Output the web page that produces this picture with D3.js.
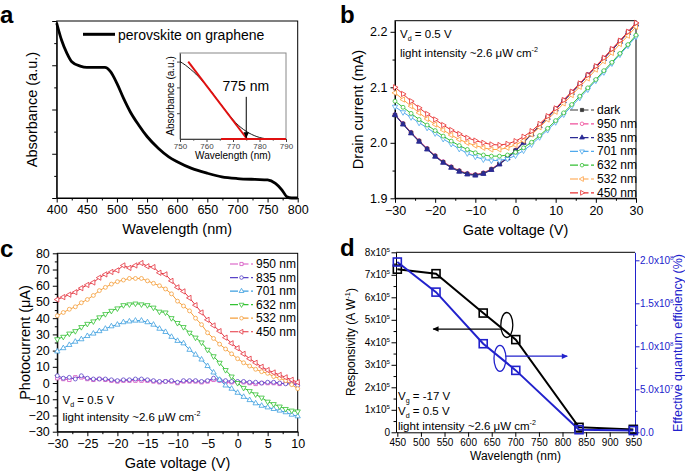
<!DOCTYPE html>
<html><head><meta charset="utf-8">
<script src="https://cdn.jsdelivr.net/npm/d3@7"></script>
<style>body{margin:0;background:#fff}svg{display:block}text{font-family:Arial,"Liberation Sans",sans-serif}</style>
</head><body>
<svg id="chart" width="685" height="471"></svg>
<script>
// ---------------- DATA ----------------
// panel a: absorbance spectrum
const absWl  = [400,408,417,425,439,450,467,480,489,500,511,522,536,550,569,586,600,624,650,674,700,729,750,763,774,782,790,800];
const absVal = [3.95,3.57,3.27,3.08,2.98,2.95,2.95,2.95,2.86,2.59,2.25,1.95,1.65,1.39,1.12,0.93,0.82,0.67,0.56,0.48,0.44,0.42,0.41,0.33,0.18,0.03,0,0];
// inset
const insWl  = [750,752,754,756,758,760,762,764,766,768,770,772,774,776,778,780,782,784,790];
const insAbs = [0.90,0.86,0.81,0.755,0.69,0.62,0.545,0.46,0.38,0.30,0.225,0.16,0.11,0.07,0.04,0.018,0.005,0,0];
const insFitWl = [753.1,775.3];
const insFitAbs = [0.9,0];
const insBaseWl = [765.5,790];
const insBaseAbs = [0,0];
const edgeWl = 775;
const aXTicks = [400,450,500,550,600,650,700,750,800];
const insXTicks = [750,760,770,780,790];

// panel b: drain current (mA) vs gate voltage
const bV = [-30,-28,-26,-24,-22,-20,-18,-16,-14,-12,-10,-8,-6,-4,-2,0,2,4,6,8,10,12,14,16,18,20,22,24,26,28,30];
const bDark = [2.050,2.034,2.018,2.003,1.989,1.976,1.965,1.956,1.949,1.944,1.942,1.945,1.952,1.962,1.973,1.986,2.001,2.016,2.031,2.046,2.061,2.076,2.091,2.106,2.122,2.137,2.152,2.168,2.183,2.199,2.214];
const b950  = [2.051,2.035,2.019,2.004,1.990,1.977,1.966,1.957,1.950,1.945,1.943,1.946,1.953,1.963,1.974,1.987,2.002,2.017,2.032,2.047,2.062,2.077,2.092,2.107,2.123,2.138,2.153,2.169,2.184,2.200,2.215];
const b835  = [2.050,2.033,2.017,2.002,1.988,1.975,1.964,1.955,1.948,1.943,1.941,1.944,1.951,1.961,1.972,1.985,2.000,2.015,2.030,2.045,2.060,2.075,2.090,2.105,2.121,2.136,2.151,2.167,2.182,2.198,2.213];
const b701  = [2.065,2.055,2.046,2.036,2.027,2.017,2.007,1.998,1.989,1.981,1.975,1.970,1.968,1.968,1.971,1.977,1.986,1.997,2.010,2.023,2.037,2.051,2.066,2.081,2.096,2.112,2.127,2.143,2.159,2.175,2.191];
const b632  = [2.075,2.064,2.053,2.042,2.032,2.022,2.012,2.003,1.995,1.988,1.982,1.978,1.976,1.976,1.978,1.983,1.991,2.001,2.013,2.026,2.040,2.054,2.069,2.084,2.099,2.114,2.130,2.145,2.161,2.177,2.194];
const b532  = [2.090,2.078,2.066,2.054,2.043,2.033,2.023,2.014,2.006,2.000,1.995,1.991,1.988,1.988,1.991,1.996,2.004,2.015,2.028,2.042,2.056,2.071,2.086,2.101,2.116,2.132,2.147,2.162,2.178,2.193,2.209];
const b450  = [2.100,2.088,2.075,2.063,2.052,2.042,2.032,2.023,2.016,2.009,2.004,2.000,1.997,1.996,1.998,2.003,2.011,2.021,2.034,2.048,2.062,2.077,2.092,2.107,2.122,2.138,2.153,2.169,2.184,2.200,2.216];
const bNames = ["dark","950 nm","835 nm","701 nm","632 nm","532 nm","450 nm"];
const bXTicks = [-30,-20,-10,0,10,20,30];
const bYTicks = [1.9,2.0,2.1,2.2];

// panel c: photocurrent (uA) vs gate voltage
const cV = [-30,-29,-28,-27,-26,-25,-24,-23,-22,-21,-20,-19,-18,-17,-16,-15,-14,-13,-12,-11,-10,-9,-8,-7,-6,-5,-4,-3,-2,-1,0,1,2,3,4,5,6,7,8,9,10];
const c950 = [3,2.5,2,3.5,3.5,2.5,2,2.5,2,1.5,1,1.5,1.5,1.5,1.5,1.5,1,0.5,1,1,0,1,1,1,0.5,1,2,1.5,0.5,0.5,0.5,0.5,0,-0.5,0,0,0,-0.5,0,0,-0.5];
const c835 = [4.5,3,3.5,2.5,4.5,3,2.5,2.5,2.5,2,1.5,2,2,2.5,2.5,2,1.5,1,1,1.5,0.5,1.5,1.5,1.5,1,1.5,3,2,1.5,1,1,1,0.5,0.5,0,0.5,0.5,0,-0.5,-0.5,-1.5];
const c701 = [19.5,21.5,23.5,25.5,27,29,30.5,32,33.5,35,36,37.5,38,38.5,38.5,37.5,36,33.5,31.5,28.5,26,24.5,20.5,17.5,14.5,10.5,6.5,2,-1.5,-3.5,-6,-8.5,-10.5,-12.5,-14,-15,-16,-17,-18,-19.5,-20.5];
const c632 = [27,28.5,30.5,32,34.5,36.5,38,40.5,42.5,44.5,46,48,48.5,49,48.5,48,46.5,44,43.5,40,37,34.5,31,28,25,20.5,16.5,12.5,8,4,0,-3,-5,-7,-9,-11.5,-13,-14.5,-16,-17,-17.5];
const c532 = [41.5,43.5,45.5,47,49.5,51.5,54,57,59,61,62.5,63.5,64.5,64.5,64.5,63,61.5,60,58,55,50.5,47.5,44.5,40,36,31,27.5,24,21,18,15,12.5,10.5,8.5,7,6,4,3,1.5,-1,-3.5];
const c450 = [51.5,53,54.5,56,58.5,60.5,62,65,67,68.5,69.5,72.5,71,72.5,74,72,71.5,68,67,63,59,56.5,52.5,48,43.5,39,35.5,32,28,24.5,21.5,18,15,12.5,10,8,6.5,5,3.5,2,0.5];
const cNames = ["950 nm","835 nm","701 nm","632 nm","532 nm","450 nm"];
const cXTicks = [-30,-25,-20,-15,-10,-5,0,5,10];
const cYTicks = [-30,-20,-10,0,10,20,30,40,50,60,70,80];

// panel d: responsivity & EQE vs wavelength
const dWl = [450,532,632,701,835,950];
const dResp = [7.25e5,7.05e5,5.3e5,4.12e5,0.22e5,0.13e5];
const dEQE  = [1.98e8,1.63e8,1.03e8,0.72e8,0.03e8,0.02e8];
const dXTicks = [450,500,550,600,650,700,750,800,850,900,950];
const dYLTicks = [0,1,2,3,4,5,6,7,8];
const dYRTicks = [[0,"0.0",""],[0.5e8,"5.0x10","7"],[1e8,"1.0x10","8"],[1.5e8,"1.5x10","8"],[2e8,"2.0x10","8"]];

// ---------------- HELPERS ----------------
const svg = d3.select('#chart');
svg.append('rect').attr('width',685).attr('height',471).attr('fill','#fff');
const defs = svg.append('defs');
function arrowDef(id,color){
  defs.append('marker').attr('id',id).attr('viewBox','0 0 10 10').attr('refX',9).attr('refY',5)
    .attr('markerWidth',7).attr('markerHeight',6).attr('orient','auto').attr('markerUnits','userSpaceOnUse')
    .append('path').attr('d','M0,0.5 L10,5 L0,9.5 Z').attr('fill',color);
}
arrowDef('arrK','#000'); arrowDef('arrB','#2222cc');

function txt(g,x,y,parts,o={}){
  const fs=o.size||12;
  const t=g.append('text').attr('x',x).attr('y',y).attr('font-size',fs)
    .attr('fill',o.fill||'#000').attr('text-anchor',o.anchor||'start');
  if(o.rotate) t.attr('transform',`rotate(${o.rotate},${x},${y})`);
  if(o.weight) t.attr('font-weight',o.weight);
  let shift=0;
  (typeof parts==='string'?[[parts,'n']]:parts).forEach(([s,k])=>{
    const target = k==='sup' ? -0.42*fs : k==='sub' ? 0.28*fs : 0;
    const ts=t.append('tspan').text(s).attr('dy',target-shift);
    if(k!=='n') ts.attr('font-size',fs*0.62);
    shift=target;
  });
  return t;
}
function axis(g,scale,orient,pos,majors,minors,fmt,fs,color,tl,pad){
  color=color||'#000'; tl=tl||4.5; pad=(pad===undefined)?3:pad;
  const mk={bottom:d3.axisBottom,left:d3.axisLeft,right:d3.axisRight,top:d3.axisTop}[orient];
  const tr=(orient==='bottom'||orient==='top')?`translate(0,${pos})`:`translate(${pos},0)`;
  const a=g.append('g').attr('transform',tr)
    .call(mk(scale).tickValues(majors).tickSize(tl).tickSizeOuter(0).tickPadding(pad).tickFormat(fmt||(()=>'')));
  a.selectAll('text').attr('font-size',fs||12).attr('fill',color).attr('font-family','Arial, "Liberation Sans", sans-serif');
  a.selectAll('line,path').attr('stroke',color).attr('stroke-width',1);
  if(minors){
    const m=g.append('g').attr('transform',tr).call(mk(scale).tickValues(minors).tickSize(tl*0.55).tickSizeOuter(0).tickFormat(''));
    m.select('.domain').remove(); m.selectAll('line').attr('stroke',color);
  }
  return a;
}
function frame(g,x,y){
  g.append('rect').attr('x',x.range()[0]).attr('y',y.range()[1]).attr('width',x.range()[1]-x.range()[0])
   .attr('height',y.range()[0]-y.range()[1]).attr('fill','none').attr('stroke','#000').attr('stroke-width',1);
}
const rot={up:0,down:180,left:-90,right:90};
function symPath(shape,size){
  const t={sq:d3.symbolSquare,ci:d3.symbolCircle,tri:d3.symbolTriangle,dia:d3.symbolDiamond}[shape];
  return d3.symbol().type(t).size(size)();
}
function marker(g,x,y,st,size){
  return g.append('path').attr('d',symPath(st.shape,size))
    .attr('transform',`translate(${x},${y}) rotate(${rot[st.dir||'up']})`)
    .attr('fill',st.filled?st.color:'#fff').attr('stroke',st.color).attr('stroke-width',0.8);
}
const minorsOf=(a,b,step)=>d3.range(a,b+1e-9,step);

// ---------------- PANEL A ----------------
const gA=svg.append('g');
const xA=d3.scaleLinear([400,800],[56.7,297.7]);
const yA=d3.scaleLinear([0,4],[198,21]);
axis(gA,xA,'bottom',198,aXTicks,minorsOf(425,775,50),d3.format('d'),12.5);
axis(gA,yA,'left',56.7,[0,1,2,3,4],[0.5,1.5,2.5,3.5],null,12);
frame(gA,xA,yA);
gA.append('path').datum(absWl.map((w,i)=>[w,absVal[i]]))
  .attr('d',d3.line().x(d=>xA(d[0])).y(d=>yA(d[1])).curve(d3.curveMonotoneX))
  .attr('fill','none').attr('stroke','#000').attr('stroke-width',2.8);
// legend
gA.append('line').attr('x1',83).attr('x2',115).attr('y1',34.3).attr('y2',34.3).attr('stroke','#000').attr('stroke-width',3);
txt(gA,118,39.5,'perovskite on graphene',{size:14});
txt(gA,(xA.range()[0]+xA.range()[1])/2,234,'Wavelength (nm)',{size:14.5,anchor:'middle'});
txt(gA,36.5,109.5,'Absorbance (a.u.)',{size:14.5,anchor:'middle',rotate:-90});
txt(gA,0,22.5,'a',{size:24,weight:'bold'});
// inset
const xI=d3.scaleLinear([750,790],[180,286]);
const yI=d3.scaleLinear([0,1],[139,53]);
gA.append('rect').attr('x',180).attr('y',53).attr('width',106).attr('height',86).attr('fill','#fff').attr('stroke','#888');
const ia=axis(gA,xI,'bottom',139,insXTicks,minorsOf(755,785,10),d3.format('d'),8,'#444',3);
ia.selectAll('text').attr('y',4).attr('dy','0.72em');
axis(gA,yI,'left',180,[0.3,0.6,0.9],null,null,8,'#444',3);
gA.append('path').datum(insWl.map((w,i)=>[w,insAbs[i]]))
  .attr('d',d3.line().x(d=>xI(d[0])).y(d=>yI(d[1])).curve(d3.curveMonotoneX))
  .attr('fill','none').attr('stroke','#000').attr('stroke-width',0.9);
gA.append('path').datum(insFitWl.map((w,i)=>[w,insFitAbs[i]]))
  .attr('d',d3.line().x(d=>xI(d[0])).y(d=>yI(d[1]))).attr('fill','none').attr('stroke','#e01010').attr('stroke-width',2);
gA.append('path').datum(insBaseWl.map((w,i)=>[w,insBaseAbs[i]]))
  .attr('d',d3.line().x(d=>xI(d[0])).y(d=>yI(d[1]))).attr('fill','none').attr('stroke','#e01010').attr('stroke-width',2);
gA.append('line').attr('x1',xI(edgeWl)).attr('x2',xI(edgeWl)).attr('y1',yI(0.49)).attr('y2',yI(0.015))
  .attr('stroke','#000').attr('stroke-width',1).attr('marker-end','url(#arrK)');
txt(gA,xI(edgeWl)-0.5,91,'775 nm',{size:14,anchor:'middle'});
txt(gA,233,158.5,'Wavelength (nm)',{size:10,anchor:'middle'});
txt(gA,174,96,'Absorbance (a.u.)',{size:10,anchor:'middle',rotate:-90});

// ---------------- PANEL B ----------------
const gB=svg.append('g');
const xB=d3.scaleLinear([-30,30],[395,636]);
const yB=d3.scaleLinear([1.9,2.22],[198.3,20.7]);
axis(gB,xB,'bottom',198.3,bXTicks,minorsOf(-25,25,10),d3.format('d'),12.5);
axis(gB,yB,'left',395,bYTicks,[1.95,2.05,2.15],d3.format('.1f'),12.5);
frame(gB,xB,yB);
const bStyles=[
  {color:'#3a3a3a',shape:'sq',filled:true},
  {color:'#f0509c',shape:'ci'},
  {color:'#2b2b95',shape:'tri',dir:'up',filled:true},
  {color:'#4fa9ec',shape:'tri',dir:'down'},
  {color:'#35bf35',shape:'ci'},
  {color:'#ffa040',shape:'tri',dir:'left'},
  {color:'#e83232',shape:'tri',dir:'right'}];
const bSeries=[bDark,b950,b835,b701,b632,b532,b450];
const bOrder=[1,0,2,3,4,5,6];
bOrder.forEach(si=>{
  const vals=bSeries[si], st=bStyles[si];
  gB.append('path').datum(bV.map((v,i)=>[v,vals[i]]))
    .attr('d',d3.line().x(d=>xB(d[0])).y(d=>yB(d[1])))
    .attr('fill','none').attr('stroke',st.color).attr('stroke-width',1);
  bV.forEach((v,i)=>marker(gB,xB(v),yB(vals[i]),st,12));
});
bNames.forEach((n,i)=>{
  const y=110+i*13.8, st=bStyles[i];
  gB.append('line').attr('x1',570).attr('x2',594).attr('y1',y).attr('y2',y).attr('stroke',st.color).attr('stroke-width',1.2).attr('stroke-dasharray','8,2.5');
  marker(gB,582,y,st,10);
  txt(gB,597,y+4,n,{size:12});
});
txt(gB,400,37.5,[['V','n'],['d','sub'],[' = 0.5 V','n']],{size:11.5});
txt(gB,400,56.5,[['light intensity ~2.6 μW cm','n'],['-2','sup']],{size:11.5});
txt(gB,(xB.range()[0]+xB.range()[1])/2,235,'Gate voltage (V)',{size:14.5,anchor:'middle'});
txt(gB,363,109.5,'Drain current (mA)',{size:14.5,anchor:'middle',rotate:-90});
txt(gB,340,22.5,'b',{size:24,weight:'bold'});

// ---------------- PANEL C ----------------
const gC=svg.append('g');
const xC=d3.scaleLinear([-30,10],[57.3,297.7]);
const yC=d3.scaleLinear([-30,80],[431.7,253.3]);
axis(gC,xC,'bottom',431.7,cXTicks,minorsOf(-27.5,7.5,5),d3.format('d'),12.5);
axis(gC,yC,'left',57.3,cYTicks,minorsOf(-25,75,10),d3.format('d'),12.5);
frame(gC,xC,yC);
const cStyles=[
  {color:'#d64fc0',shape:'sq'},
  {color:'#5a44c8',shape:'ci'},
  {color:'#3d9fe0',shape:'tri',dir:'up'},
  {color:'#33c233',shape:'tri',dir:'down'},
  {color:'#f5a03c',shape:'ci'},
  {color:'#e5323e',shape:'tri',dir:'left'}];
const cSeries=[c950,c835,c701,c632,c532,c450];
cSeries.forEach((vals,si)=>{
  const st=cStyles[si];
  gC.append('path').datum(cV.map((v,i)=>[v,vals[i]]))
    .attr('d',d3.line().x(d=>xC(d[0])).y(d=>yC(d[1])))
    .attr('fill','none').attr('stroke',st.color).attr('stroke-width',1);
  cV.forEach((v,i)=>marker(gC,xC(v),yC(vals[i]),st,12));
});
cNames.forEach((n,i)=>{
  const y=264+i*13.55, st=cStyles[i];
  gC.append('line').attr('x1',230).attr('x2',253).attr('y1',y).attr('y2',y).attr('stroke',st.color).attr('stroke-width',1.2).attr('stroke-dasharray','8,2.5');
  marker(gC,241.5,y,st,10);
  txt(gC,256,y+4,n,{size:12});
});
txt(gC,62.5,403.5,[['V','n'],['d','sub'],[' = 0.5 V','n']],{size:11.5});
txt(gC,62.5,421,[['light intensity ~2.6 μW cm','n'],['-2','sup']],{size:11.5});
txt(gC,(xC.range()[0]+xC.range()[1])/2,468,'Gate voltage (V)',{size:14.5,anchor:'middle'});
txt(gC,30,342.5,'Photocurrent (μA)',{size:14.5,anchor:'middle',rotate:-90});
txt(gC,0,256.5,'c',{size:24,weight:'bold'});

// ---------------- PANEL D ----------------
const gD=svg.append('g');
const xD=d3.scaleLinear([447.2,953.6],[396,635]);
const yDL=d3.scaleLinear([0,8e5],[432.3,252.3]);
const yDR=d3.scaleLinear([0,2e8*180/172],[432.3,252.3]);
const blue='#2222cc';
axis(gD,xD,'bottom',432.3,dXTicks,null,d3.format('d'),10,null,4.5,2);
axis(gD,yDL,'left',396,dYLTicks.map(v=>v*1e5),minorsOf(0.5e5,7.5e5,1e5),null,10);
axis(gD,yDR,'right',635,dYRTicks.map(d=>d[0]),minorsOf(0.25e8,1.75e8,0.5e8),null,10,blue);
gD.append('line').attr('x1',396).attr('x2',635).attr('y1',252.3).attr('y2',252.3).attr('stroke','#000');
dYLTicks.forEach(v=>{
  if(v===0) txt(gD,390,yDL(0)+3.5,'0',{size:10,anchor:'end'});
  else txt(gD,390,yDL(v*1e5)+3.5,[[v+'x10','n'],['5','sup']],{size:10,anchor:'end'});
});
dYRTicks.forEach(d=>{
  const parts=d[2]?[[d[1],'n'],[d[2],'sup']]:d[1];
  txt(gD,640,yDR(d[0])+3.5,parts,{size:10,fill:blue});
});
gD.append('path').datum(dWl.map((w,i)=>[w,dResp[i]]))
  .attr('d',d3.line().x(d=>xD(d[0])).y(d=>yDL(d[1]))).attr('fill','none').attr('stroke','#000').attr('stroke-width',2);
gD.append('path').datum(dWl.map((w,i)=>[w,dEQE[i]]))
  .attr('d',d3.line().x(d=>xD(d[0])).y(d=>yDR(d[1]))).attr('fill','none').attr('stroke',blue).attr('stroke-width',2);
dWl.forEach((w,i)=>{
  gD.append('rect').attr('x',xD(w)-4).attr('y',yDL(dResp[i])-4).attr('width',8).attr('height',8)
    .attr('fill','none').attr('stroke','#000').attr('stroke-width',1.6);
  gD.append('rect').attr('x',xD(w)-4).attr('y',yDR(dEQE[i])-4).attr('width',8).attr('height',8)
    .attr('fill','none').attr('stroke',blue).attr('stroke-width',1.6);
});
// annotations
gD.append('ellipse').attr('cx',xD(682)).attr('cy',yDL(4.77e5)).attr('rx',6).attr('ry',12.5).attr('fill','none').attr('stroke','#000').attr('stroke-width',1.3);
gD.append('line').attr('x1',xD(671)).attr('x2',xD(526)).attr('y1',yDL(4.59e5)).attr('y2',yDL(4.59e5)).attr('stroke','#000').attr('stroke-width',1.2).attr('marker-end','url(#arrK)');
gD.append('ellipse').attr('cx',xD(667.5)).attr('cy',yDR(0.86e8)).attr('rx',6).attr('ry',13).attr('fill','none').attr('stroke',blue).attr('stroke-width',1.3);
gD.append('line').attr('x1',xD(679)).attr('x2',xD(810)).attr('y1',yDR(0.885e8)).attr('y2',yDR(0.885e8)).attr('stroke',blue).attr('stroke-width',1.2).attr('marker-end','url(#arrB)');
txt(gD,398,400,[['V','n'],['g','sub'],[' = -17 V','n']],{size:11.5});
txt(gD,398,415,[['V','n'],['d','sub'],[' = 0.5 V','n']],{size:11.5});
txt(gD,398,429.5,[['light intensity ~2.6 μW cm','n'],['-2','sup']],{size:11.5});
txt(gD,(396+635)/2,459.5,'Wavelength (nm)',{size:12,anchor:'middle'});
txt(gD,355,342,[['Responsivity (A W','n'],['-1','sup'],[')','n']],{size:12,anchor:'middle',rotate:-90});
txt(gD,682,343,'Effective quantum efficiency (%)',{size:12.5,anchor:'middle',rotate:-90,fill:blue});
txt(gD,340,256,'d',{size:24,weight:'bold'});
</script>
</body></html>
